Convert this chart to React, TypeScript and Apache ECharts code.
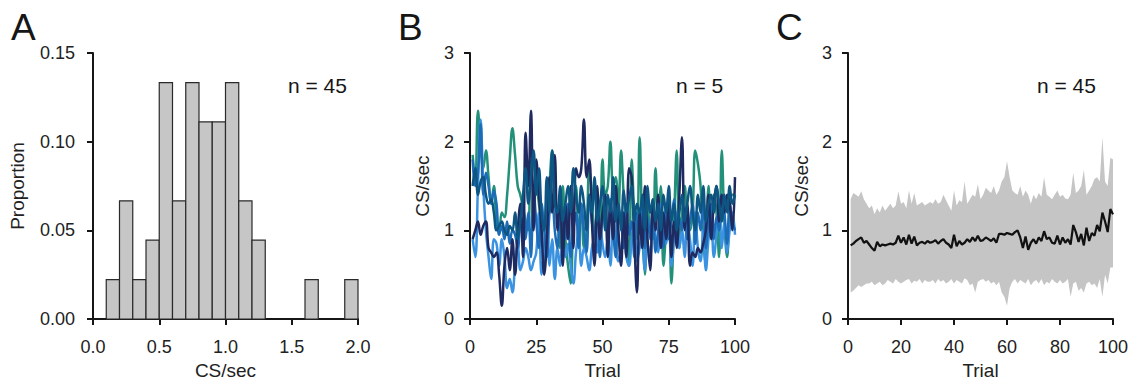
import React, { useEffect, useRef } from "react";
import * as echarts from "echarts";

// ---------- Panel A: histogram ----------
const histBinStarts = [0.1, 0.2, 0.3, 0.4, 0.5, 0.6, 0.7, 0.8, 0.9, 1.0, 1.1, 1.2, 1.6, 1.9];
const histCounts = [1, 3, 1, 2, 6, 3, 6, 5, 5, 6, 3, 2, 1, 1];
const histN = 45;
const binWidth = 0.1;
const histXTicks = ["0.0", "0.5", "1.0", "1.5", "2.0"];

// ---------- Panel B: five neurons, CS/sec per trial (trials 1..100) ----------
const greenSeries = [
  1.85, 1.55, 2.35, 1.95, 1.70, 1.90, 1.60, 1.30, 1.50, 1.10,
  1.00, 1.20, 1.15, 1.40, 1.80, 2.15, 1.85, 1.50, 1.40, 1.25,
  1.10, 1.00, 1.80, 1.75, 1.55, 1.30, 1.00, 0.60, 0.95, 1.50,
  1.90, 1.40, 1.20, 0.80, 1.50, 0.90, 0.60, 0.40, 1.20, 1.50,
  0.90, 1.30, 0.80, 1.00, 1.70, 1.40, 0.80, 1.20, 1.10, 1.80,
  1.40, 1.50, 2.00, 1.50, 1.60, 1.20, 1.90, 1.40, 1.10, 0.60,
  1.80, 1.20, 0.90, 2.05, 1.00, 0.50, 1.30, 1.00, 0.90, 1.70,
  1.20, 1.50, 0.60, 1.00, 1.40, 0.40, 1.10, 1.90, 0.80, 1.20,
  1.50, 1.10, 1.00, 1.20, 1.90, 1.75, 1.50, 0.90, 0.60, 1.50,
  1.10, 1.40, 1.20, 0.70, 1.90, 1.10, 0.70, 1.20, 1.40, 1.40,
];
const lightBlueSeries = [
  0.90, 0.70, 1.50, 2.25, 1.50, 1.00, 0.70, 0.45, 0.90, 0.85,
  0.60, 0.90, 0.70, 0.35, 0.45, 0.30, 0.60, 0.85, 0.55, 0.65,
  0.80, 0.70, 0.55, 0.65, 0.75, 1.20, 0.50, 0.80, 1.40, 0.60,
  0.90, 0.45, 0.80, 0.60, 0.90, 0.70, 0.85, 0.60, 0.40, 0.75,
  1.00, 0.60, 0.80, 0.70, 0.55, 0.80, 0.90, 0.75, 1.10, 0.85,
  0.70, 0.90, 0.60, 1.20, 0.85, 0.65, 0.80, 0.95, 0.70, 0.60,
  0.90, 1.10, 0.65, 0.80, 1.00, 0.55, 0.85, 0.70, 1.10, 0.90,
  0.75, 1.30, 0.95, 0.85, 1.10, 0.60, 0.90, 1.20, 0.80, 1.00,
  0.70, 1.10, 0.90, 0.60, 1.20, 0.80, 0.65, 1.00, 0.55, 0.90,
  1.15, 0.70, 0.95, 1.30, 0.80, 1.10, 0.75, 1.00, 1.20, 0.95,
];
const mediumBlueSeries = [
  1.80, 1.50, 1.65, 2.20, 1.40, 1.65, 1.50, 1.30, 1.45, 1.30,
  0.95, 1.05, 0.90, 1.10, 0.85, 1.00, 0.95, 0.80, 1.10, 1.30,
  0.90, 1.20, 0.70, 1.45, 1.10, 0.80, 1.30, 1.00, 0.70, 1.20,
  1.40, 1.00, 0.80, 1.25, 1.10, 0.90, 1.30, 0.70, 1.00, 1.20,
  0.80, 1.30, 1.00, 0.75, 1.40, 1.10, 0.90, 1.30, 0.70, 1.15,
  1.20, 0.80, 1.35, 1.00, 0.70, 1.25, 1.10, 0.80, 1.30, 0.95,
  1.10, 0.70, 1.20, 1.00, 1.30, 0.80, 1.15, 0.90, 1.35, 0.75,
  1.00, 1.20, 0.80, 1.30, 0.90, 1.10, 1.35, 0.85, 1.15, 1.00,
  1.25, 0.90, 1.10, 1.30, 0.85, 1.20, 1.00, 1.35, 0.80, 1.10,
  1.30, 0.90, 1.15, 1.00, 1.40, 1.20, 0.85, 1.30, 1.10, 1.00,
];
const navySeries = [
  0.90, 1.00, 1.10, 0.95, 1.05, 1.10, 0.80, 0.75, 0.70, 0.75,
  0.50, 0.15, 0.60, 0.80, 0.55, 0.90, 0.50, 1.00, 1.30, 0.70,
  2.10, 1.50, 2.35, 1.00, 1.80, 1.40, 1.00, 0.50, 0.90, 1.60,
  1.20, 1.85, 1.00, 1.40, 0.60, 1.30, 0.90, 1.50, 0.80, 1.70,
  1.60, 1.70, 2.25, 1.60, 1.80, 1.10, 0.60, 1.50, 0.90, 1.20,
  1.40, 0.70, 1.30, 0.90, 1.50, 1.00, 0.60, 1.20, 0.70, 1.70,
  1.60, 0.90, 0.30, 1.20, 0.80, 1.50, 0.90, 0.55, 1.30, 1.00,
  1.40, 0.80, 1.20, 0.90, 1.30, 0.70, 1.10, 0.80, 1.40, 2.05,
  1.00, 1.30, 0.60, 0.75, 0.70, 0.80, 0.75, 0.85, 1.00, 1.40,
  0.90, 1.30, 1.50, 1.10, 1.40, 1.20, 1.40, 1.30, 1.00, 1.60,
];
const darkTealSeries = [
  1.50, 1.70, 1.40, 1.55, 1.60, 1.40, 1.30, 1.35, 1.20, 1.00,
  1.05, 1.10, 1.00, 0.95, 1.05, 1.00, 1.20, 0.90, 1.10, 1.40,
  1.70, 1.30, 1.60, 1.90, 1.40, 1.70, 1.20, 1.00, 1.60, 1.20,
  1.90, 1.30, 1.20, 1.50, 1.10, 1.30, 1.50, 1.20, 1.70, 1.40,
  1.20, 1.50, 1.30, 1.00, 1.40, 1.20, 1.60, 1.10, 1.30, 1.50,
  1.00, 1.40, 1.20, 1.60, 1.10, 1.30, 1.00, 1.45, 1.20, 1.35,
  1.50, 1.10, 1.30, 1.20, 1.40, 1.00, 1.50, 1.20, 1.35, 1.10,
  1.30, 1.00, 1.40, 1.20, 1.50, 1.10, 1.30, 1.00, 1.20, 1.40,
  1.10, 1.30, 1.50, 1.20, 1.00, 1.40, 1.20, 1.50, 1.10, 1.30,
  1.40, 1.20, 1.50, 1.30, 1.10, 1.40, 1.20, 1.50, 1.30, 1.40,
];
const bSeriesNames = ["Neuron 1", "Neuron 2", "Neuron 3", "Neuron 4", "Neuron 5"];
const bSeriesColors = ["#23917a", "#3a92e0", "#1d6cb8", "#1e2a60", "#0d5583"];
const bXTicks = ["0", "25", "50", "75", "100"];

// ---------- Panel C: population mean and spread (trials 1..100) ----------
const meanSeries = [
  0.83, 0.85, 0.88, 0.90, 0.92, 0.86, 0.88, 0.84, 0.80, 0.77,
  0.87, 0.82, 0.84, 0.83, 0.84, 0.85, 0.84, 0.86, 0.94, 0.86,
  0.92, 0.84, 0.95, 0.85, 0.93, 0.83, 0.86, 0.87, 0.85, 0.88,
  0.86, 0.87, 0.89, 0.85, 0.88, 0.90, 0.86, 0.84, 0.80, 0.95,
  0.82, 0.88, 0.84, 0.86, 0.90, 0.87, 0.92, 0.88, 0.94, 0.88,
  0.89, 0.92, 0.90, 0.88, 0.91, 0.86, 0.96, 0.96, 0.95, 0.97,
  0.96, 0.95, 0.98, 1.00, 0.92, 0.80, 0.93, 0.78, 0.86, 0.90,
  0.85, 0.92, 0.88, 0.99, 0.90, 0.92, 0.86, 0.85, 0.94, 0.84,
  0.92, 0.86, 0.90, 0.84, 1.06, 0.98, 0.87, 0.96, 0.83, 1.03,
  0.88, 0.97, 0.94, 1.06, 0.99, 1.20, 1.10, 0.98, 1.24, 1.18,
];
const upperSeries = [
  1.35, 1.42, 1.40, 1.38, 1.44, 1.35, 1.30, 1.25, 1.28, 1.18,
  1.25, 1.20, 1.28, 1.22, 1.26, 1.30, 1.25, 1.28, 1.44, 1.30,
  1.32, 1.25, 1.45, 1.30, 1.42, 1.28, 1.30, 1.32, 1.28, 1.30,
  1.32, 1.30, 1.35, 1.30, 1.32, 1.40, 1.34, 1.28, 1.22, 1.45,
  1.28, 1.34, 1.32, 1.55, 1.30, 1.35, 1.40, 1.38, 1.52, 1.35,
  1.40, 1.48, 1.45, 1.42, 1.50, 1.40, 1.45, 1.55, 1.60, 1.78,
  1.60, 1.45, 1.42, 1.40, 1.50, 1.38, 1.45, 1.40, 1.30, 1.40,
  1.35, 1.42, 1.38, 1.60, 1.40, 1.38, 1.35, 1.40, 1.45, 1.38,
  1.40, 1.36, 1.35, 1.40, 1.65, 1.42, 1.45, 1.50, 1.68, 1.40,
  1.45, 1.50, 1.58, 1.60, 1.55, 2.05, 1.55, 1.50, 1.82, 1.80,
];
const lowerSeries = [
  0.30, 0.32, 0.35, 0.38, 0.36, 0.38, 0.40, 0.40, 0.42, 0.38,
  0.40, 0.42, 0.38, 0.40, 0.44, 0.42, 0.40, 0.45, 0.42, 0.40,
  0.42, 0.44, 0.45, 0.40, 0.43, 0.42, 0.45, 0.40, 0.44, 0.42,
  0.42, 0.44, 0.40, 0.45, 0.42, 0.44, 0.40, 0.42, 0.45, 0.40,
  0.44, 0.42, 0.40, 0.46, 0.44, 0.38, 0.40, 0.30, 0.42, 0.44,
  0.45, 0.42, 0.44, 0.40, 0.42, 0.38, 0.42, 0.30, 0.25, 0.15,
  0.35, 0.42, 0.45, 0.40, 0.44, 0.42, 0.40, 0.45, 0.38, 0.42,
  0.44, 0.40, 0.45, 0.38, 0.42, 0.40, 0.45, 0.42, 0.40, 0.44,
  0.40, 0.42, 0.45, 0.25, 0.40, 0.42, 0.32, 0.35, 0.30, 0.40,
  0.42, 0.38, 0.40, 0.35, 0.45, 0.25, 0.50, 0.40, 0.58, 0.58,
];
const cXTicks = ["0", "20", "40", "60", "80", "100"];

const FONT = "Liberation Sans, Arial, sans-serif";
const INK = "#161616";

function axisBase() {
  return {
    axisLine: { show: true, onZero: false, lineStyle: { color: INK, width: 2 } },
    axisTick: { show: true, length: 6, lineStyle: { color: INK, width: 2 } },
    splitLine: { show: false },
    axisLabel: { color: "#222", fontSize: 18, fontFamily: FONT },
    nameTextStyle: { color: "#222", fontSize: 19, fontFamily: FONT },
    nameLocation: "middle" as const,
  };
}

export default function App() {
  const ref = useRef<HTMLDivElement>(null);

  useEffect(() => {
    if (!ref.current) return;
    const chart = echarts.init(ref.current, undefined, { renderer: "svg" });

    const trials = greenSeries.map((_, i) => i + 1);
    const bData = [greenSeries, lightBlueSeries, mediumBlueSeries, navySeries, darkTealSeries];

    const histData = histBinStarts.map((s, i) => [s, s + binWidth, histCounts[i] / histN]);
    const bandData = trials.map((t, i) => [t, lowerSeries[i], upperSeries[i]]);

    const xLabel = (ticks: string[], step: number) => ({
      ...axisBase().axisLabel,
      margin: 19,
      formatter: (v: number) => ticks[Math.round(v / step)] ?? "",
    });

    const option: any = {
      animation: false,
      backgroundColor: "#ffffff",
      grid: [
        { left: 93, top: 53, width: 265, height: 266, outerBoundsMode: "none", containLabel: false },
        { left: 470, top: 53, width: 265, height: 266, outerBoundsMode: "none", containLabel: false },
        { left: 848, top: 53, width: 265, height: 266, outerBoundsMode: "none", containLabel: false },
      ],
      xAxis: [
        { ...axisBase(), type: "value", gridIndex: 0, min: 0, max: 2, interval: 0.5, name: "CS/sec", nameGap: 41, axisLabel: xLabel(histXTicks, 0.5) },
        { ...axisBase(), type: "value", gridIndex: 1, min: 0, max: 100, interval: 25, name: "Trial", nameGap: 41, axisLabel: xLabel(bXTicks, 25) },
        { ...axisBase(), type: "value", gridIndex: 2, min: 0, max: 100, interval: 20, name: "Trial", nameGap: 41, axisLabel: xLabel(cXTicks, 20) },
      ],
      yAxis: [
        {
          ...axisBase(),
          type: "value",
          gridIndex: 0,
          min: 0,
          max: 0.15,
          interval: 0.05,
          name: "Proportion",
          nameGap: 66,
          axisLabel: { ...axisBase().axisLabel, margin: 18, formatter: (v: number) => v.toFixed(2) },
        },
        {
          ...axisBase(),
          type: "value",
          gridIndex: 1,
          min: 0,
          max: 3,
          interval: 1,
          name: "CS/sec",
          nameGap: 38,
          axisLabel: { ...axisBase().axisLabel, margin: 16 },
        },
        {
          ...axisBase(),
          type: "value",
          gridIndex: 2,
          min: 0,
          max: 3,
          interval: 1,
          name: "CS/sec",
          nameGap: 37,
          axisLabel: { ...axisBase().axisLabel, margin: 16 },
        },
      ],
      series: [
        {
          type: "custom",
          name: "Proportion",
          xAxisIndex: 0,
          yAxisIndex: 0,
          encode: { x: [0, 1], y: 2 },
          data: histData,
          z: 1,
          renderItem: (_params: any, api: any) => {
            const s = api.value(0);
            const e = api.value(1);
            const v = api.value(2);
            const p0 = api.coord([s, 0]);
            const p1 = api.coord([e, v]);
            return {
              type: "rect",
              shape: { x: p0[0], y: p1[1], width: p1[0] - p0[0], height: p0[1] - p1[1] },
              style: { fill: "#c6c6c6", stroke: "#2a2a2a", lineWidth: 1.2 },
            };
          },
        },
        ...bData.map((arr, k) => ({
          type: "line",
          name: bSeriesNames[k],
          xAxisIndex: 1,
          yAxisIndex: 1,
          data: arr.map((v, i) => [trials[i], v]),
          symbol: "none",
          smooth: 0.4,
          lineStyle: { color: bSeriesColors[k], width: 2.5 },
          z: 2 + k,
        })),
        {
          type: "custom",
          name: "spread",
          xAxisIndex: 2,
          yAxisIndex: 2,
          encode: { x: 0, y: [1, 2] },
          data: bandData,
          z: 1,
          renderItem: (params: any, api: any) => {
            if (params.dataIndex !== 0) return null;
            const top = bandData.map((d) => api.coord([d[0], d[2]]));
            const bottom = bandData.map((d) => api.coord([d[0], d[1]])).reverse();
            return {
              type: "polygon",
              shape: { points: top.concat(bottom) },
              style: { fill: "#c5c5c5", stroke: "none" },
            };
          },
        },
        {
          type: "line",
          name: "mean",
          xAxisIndex: 2,
          yAxisIndex: 2,
          data: meanSeries.map((v, i) => [trials[i], v]),
          symbol: "none",
          lineStyle: { color: "#111", width: 2.2 },
          z: 3,
        },
      ],
      graphic: [
        { type: "text", left: 11, top: 9, style: { text: "A", font: `37px ${FONT}`, fill: INK } },
        { type: "text", left: 398, top: 9, style: { text: "B", font: `37px ${FONT}`, fill: INK } },
        { type: "text", left: 776, top: 9, style: { text: "C", font: `37px ${FONT}`, fill: INK } },
        { type: "text", left: 288, top: 75, style: { text: "n = 45", font: `21px ${FONT}`, fill: INK } },
        { type: "text", left: 676, top: 75, style: { text: "n = 5", font: `21px ${FONT}`, fill: INK } },
        { type: "text", left: 1037, top: 75, style: { text: "n = 45", font: `21px ${FONT}`, fill: INK } },
      ],
    };

    chart.setOption(option);
    return () => chart.dispose();
  }, []);

  return (
    <div
      ref={ref}
      style={{ position: "absolute", left: 0, top: 0, width: 1139, height: 382, background: "#fff" }}
    />
  );
}
